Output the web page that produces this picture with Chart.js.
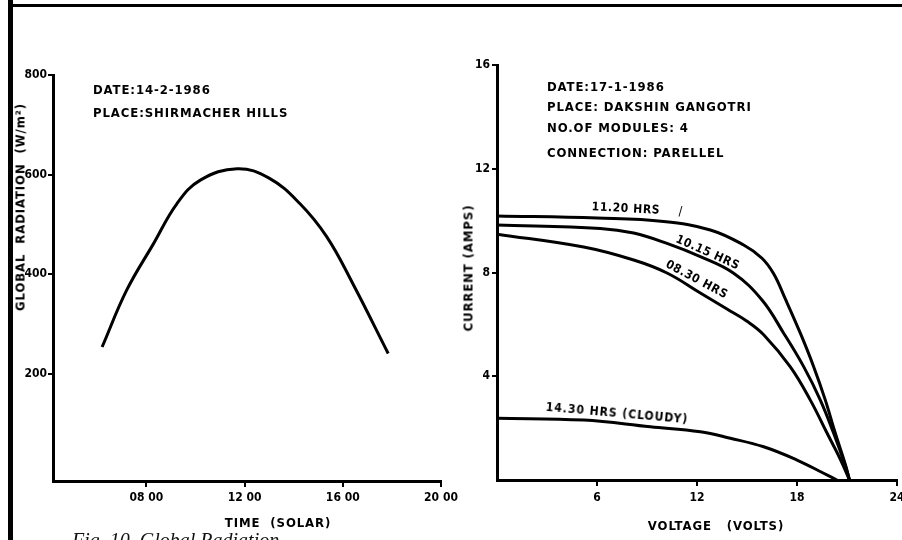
<!DOCTYPE html>
<html>
<head>
<meta charset="utf-8">
<script src="https://cdn.jsdelivr.net/npm/chart.js@4.4.1/dist/chart.umd.min.js"></script>
<style>
  body { margin: 0; background: #fff; }
  #page { position: relative; width: 902px; height: 540px; overflow: hidden; background: #fff; }
  canvas { position: absolute; top: 0; }
  .txt { position: absolute; font-family: "DejaVu Sans Condensed", "DejaVu Sans", sans-serif; font-weight: bold;
         font-size: 13px; color: #000; white-space: nowrap; letter-spacing: 0.9px; }
  .rot { transform: translate(-50%, -50%) rotate(var(--a)); }
  .lbl { font-size: 12px; letter-spacing: 0.6px; }
  .caption { position: absolute; left: 72px; top: 529px; font-family: "Liberation Serif", serif; font-style: italic;
             font-size: 20px; color: #111; white-space: nowrap; }
</style>
</head>
<body>
<div id="page">
  <div style="position:absolute;left:8px;top:0;width:5px;height:540px;background:#000"></div>
  <div style="position:absolute;left:8px;top:4px;width:894px;height:3px;background:#000"></div>

  <canvas id="radChart" width="490" height="540" style="left:0"></canvas>
  <canvas id="ivChart" width="460" height="540" style="left:460px"></canvas>

  <!-- left chart notes -->
  <div class="txt" style="left:93px;top:82px">DATE:14-2-1986</div>
  <div class="txt" style="left:93px;top:105px">PLACE:SHIRMACHER HILLS</div>
  <div class="txt rot" style="left:20px;top:207px;--a:-90deg">GLOBAL&nbsp; RADIATION&nbsp; (W/m²)</div>
  <div class="txt rot" style="left:278px;top:522px;--a:0deg">TIME&nbsp; (SOLAR)</div>

  <!-- right chart notes -->
  <div class="txt" style="left:547px;top:79px">DATE:17-1-1986</div>
  <div class="txt" style="left:547px;top:99px">PLACE: DAKSHIN GANGOTRI</div>
  <div class="txt" style="left:547px;top:120px">NO.OF MODULES: 4</div>
  <div class="txt" style="left:547px;top:145px">CONNECTION: PARELLEL</div>
  <div class="txt rot" style="left:468px;top:268px;--a:-90deg">CURRENT (AMPS)</div>
  <div class="txt rot" style="left:716px;top:525px;--a:0deg">VOLTAGE&nbsp;&nbsp; (VOLTS)</div>

  <div class="txt rot lbl" style="left:626px;top:208px;--a:3deg">11.20 HRS</div>
  <div class="txt rot" style="left:681px;top:210px;--a:0deg;font-weight:normal">/</div>
  <div class="txt rot lbl" style="left:708px;top:252px;--a:24deg">10.15 HRS</div>
  <div class="txt rot lbl" style="left:697px;top:279px;--a:28deg">08.30 HRS</div>
  <div class="txt rot lbl" style="left:617px;top:413px;--a:5deg;letter-spacing:1px">14.30 HRS (CLOUDY)</div>

  <div class="caption">Fig. 10. Global Radiation</div>
</div>

<script>
// ---- left chart: global radiation over the day ----
const timeHours = [6.2, 7.2, 8.3, 9.25, 10.2, 11.7, 13.0, 14.25, 15.35, 16.4, 17.85];
const radiation = [254, 368, 462, 542, 589, 612, 593, 542, 475, 382, 241];
const timeTicks = [8, 12, 16, 20];
const timeTickLabels = ["08 00", "12 00", "16 00", "20 00"];
const radiationTicks = [200, 400, 600, 800];

// ---- right chart: I-V curves ----
const volt1120 = [0, 6, 10, 12.8, 14.8, 15.9, 16.6, 17.3, 18.2, 19.0, 19.7, 20.3, 20.9, 21.15];
const amps1120 = [10.18, 10.1, 9.97, 9.64, 9.06, 8.55, 7.95, 6.98, 5.66, 4.37, 3.08, 1.80, 0.6, 0];
const volt1015 = [0, 6.2, 8.2, 10.2, 12.2, 14.2, 15.9, 17.2, 18.4, 19.4, 20.2, 20.9, 21.15];
const amps1015 = [9.83, 9.70, 9.52, 9.12, 8.61, 7.97, 6.94, 5.66, 4.37, 3.08, 1.80, 0.55, 0];
const volt0830 = [0, 5.2, 8.2, 10.2, 12.2, 13.8, 15.0, 16.0, 17.6, 18.8, 19.8, 20.6, 21.15];
const amps0830 = [9.48, 8.98, 8.48, 7.98, 7.21, 6.59, 6.12, 5.6, 4.36, 3.08, 1.81, 0.8, 0];
const voltCloudy = [0, 5.2, 9.2, 12.2, 14.0, 16.0, 18.0, 19.6, 20.4];
const ampsCloudy = [2.38, 2.31, 2.05, 1.86, 1.61, 1.28, 0.77, 0.26, 0];
const voltTicks = [6, 12, 18, 24];
const currentTicks = [4, 8, 12, 16];

const tickFont = { family: "'DejaVu Sans Condensed', 'DejaVu Sans', sans-serif", size: 12, weight: "bold" };

function toPoints(xs, ys) {
  return xs.map((x, i) => ({ x: x, y: ys[i] }));
}

function curve(xs, ys) {
  return {
    data: toPoints(xs, ys),
    showLine: true,
    borderColor: "#000",
    borderWidth: 3,
    pointRadius: 0,
    tension: 0.4,
    fill: false
  };
}

function axis(opts) {
  return {
    type: "linear",
    min: opts.min,
    max: opts.max,
    border: { display: true, color: "#000", width: 3 },
    grid: { display: true, drawOnChartArea: false, color: "#000", lineWidth: 2, tickLength: opts.tickLength },
    ticks: {
      color: "#000",
      font: tickFont,
      padding: opts.padding,
      autoSkip: false,
      maxRotation: 0,
      callback: opts.label
    },
    afterBuildTicks: a => { a.ticks = opts.ticks.map(v => ({ value: v })); },
    afterFit: opts.fit
  };
}

function baseOptions(pad, xAxis, yAxis) {
  return {
    responsive: false,
    animation: false,
    devicePixelRatio: 1,
    layout: { padding: pad },
    plugins: { legend: { display: false }, tooltip: { enabled: false } },
    scales: { x: xAxis, y: yAxis }
  };
}

new Chart(document.getElementById("radChart").getContext("2d"), {
  type: "scatter",
  data: { datasets: [curve(timeHours, radiation)] },
  options: baseOptions(
    { top: 75, right: 49, left: 0, bottom: 0 },
    axis({ min: 4.2, max: 20, ticks: timeTicks, tickLength: 6, padding: 4,
           label: v => timeTickLabels[timeTicks.indexOf(v)],
           fit: s => { s.height = 59; } }),
    axis({ min: -15, max: 800, ticks: radiationTicks, tickLength: 5, padding: 1,
           label: v => String(v),
           fit: s => { s.width = 53; } })
  )
});

new Chart(document.getElementById("ivChart").getContext("2d"), {
  type: "scatter",
  data: {
    datasets: [
      curve(volt1120, amps1120),
      curve(volt1015, amps1015),
      curve(volt0830, amps0830),
      curve(voltCloudy, ampsCloudy)
    ]
  },
  options: baseOptions(
    { top: 65, right: 23, left: 0, bottom: 0 },
    axis({ min: 0, max: 24, ticks: voltTicks, tickLength: 6, padding: 5,
           label: v => String(v),
           fit: s => { s.height = 60; } }),
    axis({ min: 0, max: 16, ticks: currentTicks, tickLength: 5, padding: 2,
           label: v => String(v),
           fit: s => { s.width = 37; } })
  )
});
</script>
</body>
</html>
